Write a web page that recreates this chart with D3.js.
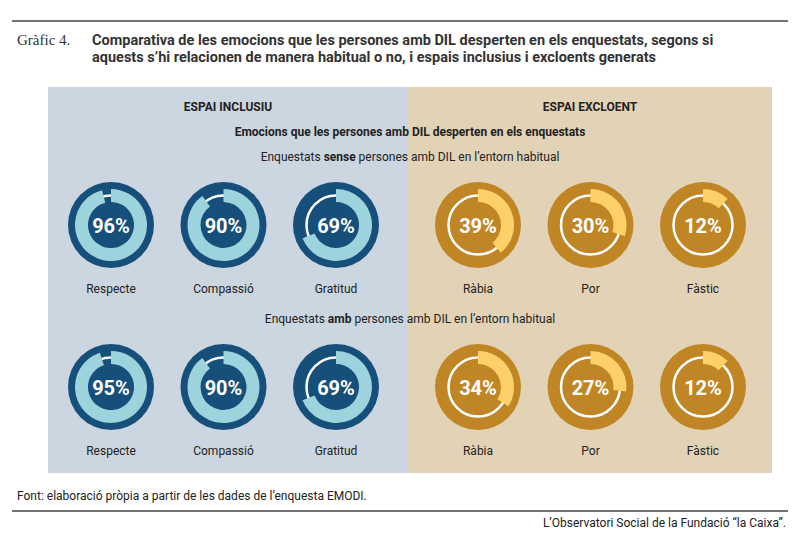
<!DOCTYPE html>
<html><head><meta charset="utf-8">
<script src="https://cdn.jsdelivr.net/npm/d3@7"></script>
<style>body{margin:0;background:#fff}text{font-family:Roboto,"Noto Sans",sans-serif}</style>
</head><body><svg id="c" width="800" height="533"></svg>
<script>
const emotions = ["Respecte", "Compassió", "Gratitud", "Ràbia", "Por", "Fàstic"];
const sensePct = [96, 90, 69, 39, 30, 12];
const ambPct = [95, 90, 69, 34, 27, 12];
const groups = ["inclusiu", "inclusiu", "inclusiu", "excloent", "excloent", "excloent"];

const svg = d3.select("#c");
const pal = {
    inclusiu: {dark: "#164f7a", light: "#9dd3dd", bg: "#cbd6e0"},
    excloent: {dark: "#c08626", light: "#fed068", bg: "#e3d3b6"}
};

// header
svg.append("line").attr("x1", 12).attr("x2", 788).attr("y1", 21).attr("y2", 21).attr("stroke", "#444").attr("stroke-width", 1.5);
svg.append("text").attr("x", 17).attr("y", 45).style("font-family", "Liberation Serif, serif").attr("font-size", 15).attr("fill", "#333").text("Gràfic 4.");
const title = ["Comparativa de les emocions que les persones amb DIL desperten en els enquestats, segons si", "aquests s’hi relacionen de manera habitual o no, i espais inclusius i excloents generats"];
title.forEach((t, i) => svg.append("text").attr("x", 92).attr("y", 45 + i * 17).attr("font-size", 14.5).attr("font-weight", "bold").attr("fill", "#333").text(t));

// panels
svg.append("rect").attr("x", 48).attr("y", 87).attr("width", 360).attr("height", 386).attr("fill", pal.inclusiu.bg);
svg.append("rect").attr("x", 408).attr("y", 87).attr("width", 364).attr("height", 386).attr("fill", pal.excloent.bg);
svg.append("text").attr("x", 228).attr("y", 111).attr("text-anchor", "middle").attr("font-size", 12).attr("font-weight", "bold").attr("fill", "#222").text("ESPAI INCLUSIU");
svg.append("text").attr("x", 590).attr("y", 111).attr("text-anchor", "middle").attr("font-size", 12).attr("font-weight", "bold").attr("fill", "#222").text("ESPAI EXCLOENT");
svg.append("text").attr("x", 410).attr("y", 136).attr("text-anchor", "middle").attr("font-size", 12).attr("font-weight", "bold").attr("fill", "#222").text("Emocions que les persones amb DIL desperten en els enquestats");

function sub(y, bold) {
    const t = svg.append("text").attr("x", 410).attr("y", y).attr("text-anchor", "middle").attr("font-size", 12).attr("fill", "#222");
    t.append("tspan").text("Enquestats ");
    t.append("tspan").attr("font-weight", "bold").text(bold);
    t.append("tspan").text(" persones amb DIL en l’entorn habitual");
}
sub(161, "sense");
sub(323, "amb");

const xPos = e => { const i = emotions.indexOf(e); return i < 3 ? 111 + i * 112.5 : 478 + (i - 3) * 112.5; };
const ang = d3.scaleLinear().domain([0, 100]).range([0, 2 * Math.PI]);
const arc = d3.arc().innerRadius(23).outerRadius(36).startAngle(0);

function row(vals, cy) {
    const g = svg.append("g").selectAll("g").data(emotions).join("g")
        .attr("transform", d => `translate(${xPos(d)},${cy})`);
    g.append("circle").attr("r", 43).attr("fill", (d, i) => pal[groups[i]].dark);
    g.append("circle").attr("r", 29.5).attr("fill", "none").attr("stroke", "#fff").attr("stroke-width", 2.5);
    g.append("path").attr("fill", (d, i) => pal[groups[i]].light).attr("d", (d, i) => arc({endAngle: ang(vals[i])}));
    g.append("text").attr("y", 7.5).attr("text-anchor", "middle").attr("font-size", 20).attr("font-weight", "bold").attr("fill", "#fff").text((d, i) => vals[i] + "%");
    g.append("text").attr("y", 68).attr("text-anchor", "middle").attr("font-size", 12).attr("fill", "#222").text(d => d);
}
row(sensePct, 225);
row(ambPct, 387);

// footer
svg.append("text").attr("x", 17).attr("y", 500).attr("font-size", 12).attr("fill", "#222").text("Font: elaboració pròpia a partir de les dades de l’enquesta EMODI.");
svg.append("line").attr("x1", 12).attr("x2", 788).attr("y1", 511).attr("y2", 511).attr("stroke", "#444").attr("stroke-width", 1.5);
svg.append("text").attr("x", 786).attr("y", 527).attr("text-anchor", "end").attr("font-size", 12).attr("fill", "#222").text("L’Observatori Social de la Fundació “la Caixa”.");
</script></body></html>
